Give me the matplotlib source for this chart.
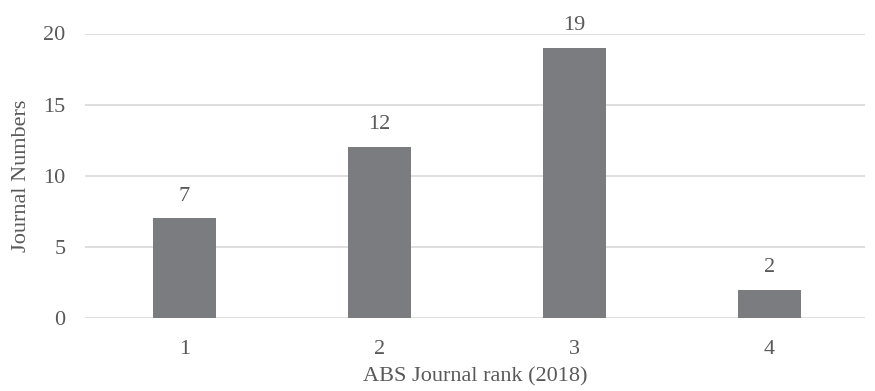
import matplotlib.pyplot as plt
import numpy as np

plt.rcParams['font.family'] = ['Liberation Serif', 'DejaVu Serif']

ranks = ['1', '2', '3', '4']
counts = [7, 12, 19, 2]

txt = '#595959'
fs = 16
fig = plt.figure(figsize=(8.75, 3.91), dpi=100)
ax = fig.add_axes([85 / 875, 1 - 318 / 391, 780 / 875, (318 - 33.5) / 391])

x = np.arange(len(ranks))
ax.bar(x + 0.01, counts, width=0.32, color='#7b7c7f', zorder=3)
for xi, c in zip(x, counts):
    ax.text(xi + 0.01, c + 0.9, str(c), ha='center', va='bottom', fontsize=fs, color=txt)

ax.set_xlim(-0.5, 3.5)
ax.set_ylim(0, 20)
ax.set_yticks([0, 5, 10, 15, 20])
ax.set_xticks(x + 0.01)
ax.set_xticklabels(ranks)
ax.grid(axis='y', color='#d9d9d9', linewidth=1.2, zorder=0)
for s in ax.spines.values():
    s.set_visible(False)
ax.tick_params(length=0, labelsize=fs, labelcolor=txt)
ax.tick_params(axis='y', pad=14)
ax.tick_params(axis='x', pad=16)
ax.set_ylabel('Journal Numbers', fontsize=fs, color=txt, labelpad=9)
ax.set_xlabel('ABS Journal rank (2018)', fontsize=fs, color=txt, labelpad=6)

fig.savefig('out.png')
